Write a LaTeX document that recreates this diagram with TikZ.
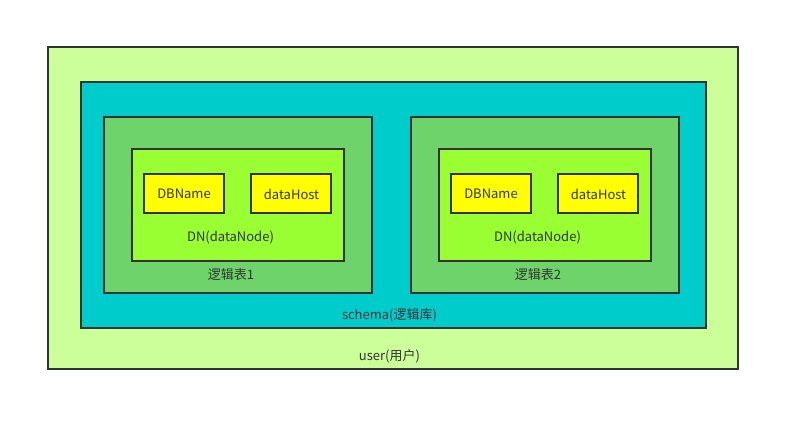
\documentclass[tikz,border=0pt]{standalone}
\usepackage{fontspec}
\setmainfont{Noto Sans CJK SC}
\begin{document}
\begin{tikzpicture}[x=1pt,y=-1pt,
  box/.style={draw=black!80,line width=1.5pt},
  lbl/.style={inner sep=0pt,text=black!80,font=\fontsize{13}{15}\selectfont}]
\useasboundingbox (0,0) rectangle (801,447);
\definecolor{cuser}{HTML}{CCFF99}
\definecolor{cschema}{HTML}{00CCCC}
\definecolor{ctable}{HTML}{6DD36A}
\definecolor{cdn}{HTML}{99FF33}
\definecolor{cyel}{HTML}{FFFF00}
\draw[box,fill=cuser] (48,47) rectangle (738,369);
\draw[box,fill=cschema] (81,82) rectangle (706,328);
\node[lbl] (user) at (389.5,356) {user(用户)};
\node[lbl] (schema) at (389.5,315) {schema(逻辑库)};
\foreach \dx/\n in {0/1,307/2}{
  \begin{scope}[xshift=\dx]
  \draw[box,fill=ctable] (104,117) rectangle (372,293);
  \draw[box,fill=cdn] (132,149) rectangle (344,261);
  \draw[box,fill=cyel] (144,174) rectangle (224,213);
  \draw[box,fill=cyel] (251,174) rectangle (331,213);
  \node[lbl] (db\n) at (184,194) {DBName};
  \node[lbl] (dh\n) at (291.5,194) {dataHost};
  \node[lbl] (dn\n) at (230.5,237) {DN(dataNode)};
  \node[lbl] (t\n) at (231,275) {逻辑表\n};
  \end{scope}
}
\end{tikzpicture}
\end{document}
